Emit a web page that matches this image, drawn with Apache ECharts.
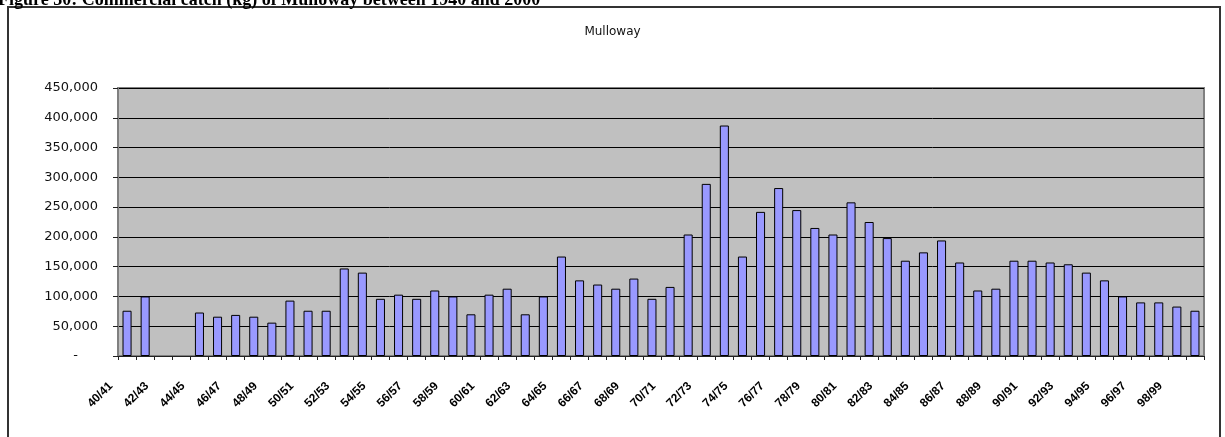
<!DOCTYPE html>
<html>
<head>
<meta charset="utf-8">
<script src="https://cdn.jsdelivr.net/npm/echarts@6/dist/echarts.min.js"></script>
<style>
  html, body { margin: 0; padding: 0; background: #fff; }
  #chart { width: 1225px; height: 437px; }
</style>
</head>
<body>
<div id="chart"></div>
<script>
// season labels (financial years)
var seasons = [
  "40/41", "41/42", "42/43", "43/44", "44/45", "45/46", "46/47", "47/48", "48/49", "49/50",
  "50/51", "51/52", "52/53", "53/54", "54/55", "55/56", "56/57", "57/58", "58/59", "59/60",
  "60/61", "61/62", "62/63", "63/64", "64/65", "65/66", "66/67", "67/68", "68/69", "69/70",
  "70/71", "71/72", "72/73", "73/74", "74/75", "75/76", "76/77", "77/78", "78/79", "79/80",
  "80/81", "81/82", "82/83", "83/84", "84/85", "85/86", "86/87", "87/88", "88/89", "89/90",
  "90/91", "91/92", "92/93", "93/94", "94/95", "95/96", "96/97", "97/98", "98/99", "99/00"
];

// commercial catch (kg)
var catchKg = [
  76000, 100000, null, null, 73000, 66000, 69000, 66000, 56000, 93000,
  76000, 76000, 147000, 140000, 96000, 103000, 96000, 110000, 100000, 70000,
  103000, 113000, 70000, 100000, 167000, 127000, 120000, 113000, 130000, 96000,
  116000, 204000, 289000, 387000, 167000, 242000, 282000, 245000, 215000, 204000,
  258000, 225000, 198000, 160000, 174000, 194000, 157000, 110000, 113000, 160000,
  160000, 157000, 154000, 140000, 127000, 100000, 90000, 90000, 83000, 76000
];

var yMax = 450000;
var yStep = 50000;

var myChart = echarts.init(document.getElementById("chart"));

var option = {
  backgroundColor: "#fff",
  animation: false,
  title: {
    text: "Mulloway",
    left: "center",
    top: 21,
    textStyle: { color: "#111", fontFamily: "DejaVu Sans", fontSize: 12, fontWeight: "normal" }
  },
  graphic: [
    {
      // outer chart frame
      type: "rect",
      shape: { x: 8, y: 7, width: 1212, height: 440 },
      style: { fill: null, stroke: "#333", lineWidth: 2 },
      z: -1
    },
    {
      // figure caption, cut by the top edge
      type: "text",
      left: -2,
      top: -9,
      style: {
        text: "Figure 30: Commercial catch (kg) of Mulloway between 1940 and 2000",
        font: "bold 18px 'Liberation Serif'",
        fill: "#000"
      }
    }
  ],
  grid: {
    left: 118, right: 21, top: 88, bottom: 81,
    show: true,
    backgroundColor: "#C0C0C0",
    borderColor: "#808080",
    borderWidth: 2
  },
  xAxis: {
    type: "category",
    data: seasons,
    boundaryGap: true,
    axisLine: { show: true, lineStyle: { color: "#222", width: 1 } },
    axisTick: { show: true, interval: 0, length: 4, lineStyle: { color: "#222" } },
    axisLabel: {
      interval: 1,
      rotate: 45,
      margin: 12,
      padding: [0, 23, 0, 0],
      color: "#000",
      fontFamily: "Liberation Sans",
      fontWeight: "bold",
      fontSize: 12
    }
  },
  yAxis: {
    type: "value",
    min: 0,
    max: yMax,
    interval: yStep,
    axisLine: { show: true, lineStyle: { color: "#808080", width: 2 } },
    axisTick: { show: true, length: 5, lineStyle: { color: "#222" } },
    splitLine: { show: true, lineStyle: { color: "#000", width: 1 } },
    axisLabel: {
      margin: 20,
      color: "#111",
      fontFamily: "DejaVu Sans",
      fontSize: 13,
      formatter: function (v) {
        if (v === 0) return "{dash|-}";
        return v.toString().replace(/\B(?=(\d{3})+(?!\d))/g, ",");
      },
      rich: {
        dash: { padding: [0, 20, 0, 0], fontSize: 13, color: "#111" }
      }
    }
  },
  series: [
    {
      type: "bar",
      data: catchKg,
      barWidth: "50%",
      itemStyle: { color: "#9999FF", borderColor: "#000", borderWidth: 1 }
    }
  ]
};

myChart.setOption(option);
</script>
</body>
</html>
